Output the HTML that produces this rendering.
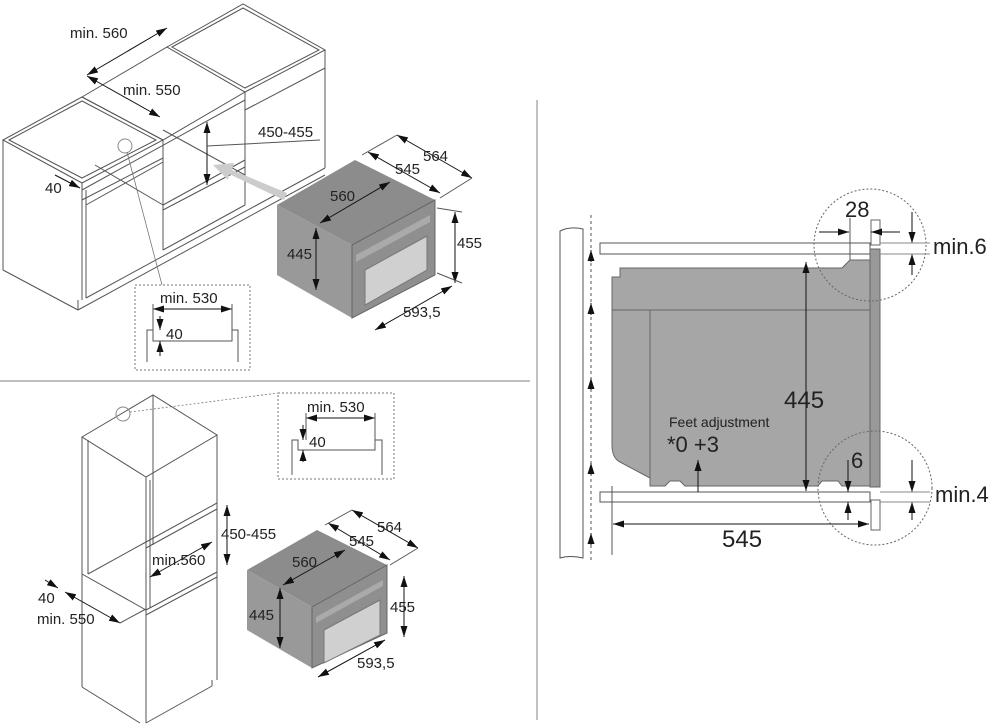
<!DOCTYPE html>
<html><head><meta charset="utf-8"><style>
html,body{margin:0;padding:0;background:#fff}
svg{display:block}
text{font-family:"Liberation Sans",sans-serif;fill:#222}
</style></head><body>
<svg width="1000" height="725" viewBox="0 0 1000 725" xmlns="http://www.w3.org/2000/svg">
<defs>
<marker id="a" markerWidth="11" markerHeight="7" refX="11" refY="3.5" orient="auto" markerUnits="userSpaceOnUse"><path d="M0,0L11,3.5L0,7z" fill="#111"/></marker>
<marker id="s" markerWidth="11" markerHeight="7" refX="0" refY="3.5" orient="auto" markerUnits="userSpaceOnUse"><path d="M11,0L0,3.5L11,7z" fill="#111"/></marker>
</defs>
<g stroke="#999" stroke-width="1.2">
<line x1="0" y1="381" x2="530" y2="381"/>
<line x1="537" y1="100" x2="537" y2="720"/>
</g>

<!-- TOP CABINET -->
<g fill="none" stroke="#555" stroke-width="1">
<polygon points="3,140 82,97 163,140 82,183" fill="#fff"/>
<polygon points="9,140 82,101 156,140 82,178"/>
<polygon points="82,97 167,47 245,92 163,140"/>
<polygon points="167,47 243,4 325,50 245,92" fill="#fff"/>
<polygon points="172,47 243,8 319,50 245,88"/>
<line x1="3" y1="140" x2="3" y2="270"/>
<line x1="3" y1="270" x2="78" y2="310"/>
<line x1="82" y1="183" x2="82" y2="300"/>
<line x1="78" y1="300" x2="78" y2="310"/>
<line x1="86" y1="190" x2="86" y2="298"/>
<line x1="78" y1="310" x2="325" y2="175"/>
<line x1="86" y1="298" x2="325" y2="168"/>
<line x1="325" y1="50" x2="325" y2="168"/>
<line x1="245" y1="92" x2="245" y2="205"/>
<line x1="163" y1="140" x2="163" y2="250"/>
<line x1="82" y1="190" x2="245" y2="100"/>
<line x1="82" y1="200" x2="163" y2="158"/>
<line x1="86" y1="205" x2="163" y2="162"/>
<line x1="163" y1="205" x2="245" y2="160"/>
<line x1="163" y1="210" x2="245" y2="167"/>
<line x1="245" y1="110" x2="325" y2="68"/>
<line x1="163" y1="130" x2="245" y2="175"/>
<line x1="95" y1="165" x2="163" y2="205"/>
<line x1="163" y1="250" x2="245" y2="205"/>
<circle cx="125" cy="146" r="7" stroke="#888"/>
<line x1="127" y1="152" x2="162" y2="285" stroke="#777" stroke-width="0.8"/>
</g>
<polygon points="287,193 232,170 234,163 213,165 228,180 229,174 284,200" fill="#ccc"/>
<g stroke="#111" stroke-width="1" fill="none">
<line x1="87" y1="75" x2="167" y2="28" marker-start="url(#s)" marker-end="url(#a)"/>
<line x1="87" y1="76" x2="160" y2="117" marker-start="url(#s)" marker-end="url(#a)"/>
<line x1="207" y1="122" x2="207" y2="185" marker-start="url(#s)" marker-end="url(#a)"/>
<line x1="207" y1="146" x2="320" y2="140" stroke="#555"/>
<line x1="55" y1="175" x2="80" y2="188" marker-end="url(#a)"/>
</g>
<g font-size="15">
<text x="70" y="38">min. 560</text>
<text x="123" y="95">min. 550</text>
<text x="258" y="137">450-455</text>
<text x="45" y="193">40</text>
</g>
<rect x="135" y="285" width="115" height="85" fill="#fff" stroke="#777" stroke-dasharray="2,2"/>
<g stroke="#111" fill="none" stroke-width="1">
<line x1="153" y1="309" x2="232" y2="309" marker-start="url(#s)" marker-end="url(#a)"/>
<line x1="153" y1="304" x2="153" y2="330" stroke="#555"/>
<line x1="232" y1="304" x2="232" y2="330" stroke="#555"/>
<polyline points="147,362 147,330 153,330 153,341 232,341 232,330 238,330 238,362" stroke="#555"/>
<line x1="160" y1="316" x2="160" y2="330" marker-end="url(#a)"/>
<line x1="160" y1="356" x2="160" y2="341" marker-end="url(#a)"/>
</g>
<text x="160" y="303" font-size="15">min. 530</text>
<text x="166" y="339" font-size="15">40</text>

<!-- top oven -->
<polygon points="277,205 355,160 435,200 352,245" fill="#8c8c8c"/>
<polygon points="277,205 352,245 352,318 277,275" fill="#999"/>
<polygon points="352,245 435,200 435,275 352,318" fill="#8f8f8f" stroke="#666"/>
<polygon points="356,255 430,215 430,222 356,262" fill="#aaa"/>
<polygon points="365,270 427,236 427,270 365,305" fill="#d0d0d0" stroke="#777"/>
<g stroke="#111" stroke-width="1" fill="none">
<line x1="397" y1="135" x2="472" y2="178" marker-start="url(#s)" marker-end="url(#a)"/>
<line x1="368" y1="152" x2="440" y2="193" marker-start="url(#s)" marker-end="url(#a)"/>
<line x1="320" y1="223" x2="390" y2="182" marker-start="url(#s)" marker-end="url(#a)"/>
<line x1="316" y1="228" x2="316" y2="290" marker-start="url(#s)" marker-end="url(#a)"/>
<line x1="455" y1="212" x2="455" y2="283" marker-start="url(#s)" marker-end="url(#a)"/>
<line x1="375" y1="330" x2="452" y2="286" marker-start="url(#s)" marker-end="url(#a)"/>
<line x1="397" y1="135" x2="362" y2="155" stroke="#555"/>
<line x1="472" y1="178" x2="440" y2="198" stroke="#555"/>
<line x1="437" y1="208" x2="462" y2="212" stroke="#555"/>
<line x1="437" y1="273" x2="462" y2="283" stroke="#555"/>
</g>
<g font-size="15">
<text x="423" y="161">564</text>
<text x="395" y="174">545</text>
<text x="330" y="201">560</text>
<text x="287" y="259">445</text>
<text x="457" y="248">455</text>
<text x="403" y="317">593,5</text>
</g>

<!-- BOTTOM CABINET -->
<g fill="none" stroke="#555" stroke-width="1">
<polygon points="82,437 153,395 217,435 146,477" fill="#fff"/>
<line x1="82" y1="437" x2="82" y2="687"/>
<line x1="88" y1="440" x2="88" y2="574"/>
<line x1="146" y1="477" x2="146" y2="723"/>
<line x1="217" y1="435" x2="217" y2="680"/>
<line x1="153" y1="395" x2="153" y2="545"/>
<line x1="82" y1="687" x2="140" y2="723"/>
<line x1="146" y1="723" x2="212" y2="686"/>
<line x1="212" y1="680" x2="212" y2="686"/>
<line x1="146" y1="542" x2="217" y2="503"/>
<line x1="146" y1="548" x2="217" y2="509"/>
<line x1="146" y1="610" x2="217" y2="572"/>
<line x1="146" y1="615" x2="217" y2="577"/>
<line x1="82" y1="574" x2="146" y2="610"/>
<line x1="88" y1="574" x2="146" y2="542"/>
<line x1="150" y1="480" x2="150" y2="608"/>
<circle cx="123" cy="414" r="7" stroke="#888"/>
<line x1="130" y1="412" x2="278" y2="393" stroke="#777" stroke-dasharray="2,2" stroke-width="0.8"/>
</g>
<g stroke="#111" stroke-width="1" fill="none">
<line x1="227" y1="505" x2="227" y2="565" marker-start="url(#s)" marker-end="url(#a)"/>
<line x1="150" y1="577" x2="212" y2="542" marker-start="url(#s)" marker-end="url(#a)"/>
<line x1="45" y1="580" x2="58" y2="588" marker-end="url(#a)"/>
<line x1="65" y1="592" x2="120" y2="623" marker-start="url(#s)" marker-end="url(#a)"/>
<line x1="120" y1="623" x2="146" y2="609" stroke="#555"/>
</g>
<g font-size="15">
<text x="221" y="539">450-455</text>
<text x="152" y="565">min.560</text>
<text x="38" y="603">40</text>
<text x="37" y="624">min. 550</text>
</g>
<rect x="278" y="393" width="116" height="86" fill="#fff" stroke="#777" stroke-dasharray="2,2"/>
<g stroke="#111" fill="none" stroke-width="1">
<line x1="306" y1="418" x2="375" y2="418" marker-start="url(#s)" marker-end="url(#a)"/>
<line x1="306" y1="413" x2="306" y2="440" stroke="#555"/>
<line x1="375" y1="413" x2="375" y2="440" stroke="#555"/>
<polyline points="292,475 292,440 298,440 298,450 375,450 375,440 382,440 382,475" stroke="#555"/>
<line x1="303" y1="425" x2="303" y2="440" marker-end="url(#a)"/>
<line x1="303" y1="462" x2="303" y2="450" marker-end="url(#a)"/>
</g>
<text x="307" y="412" font-size="15">min. 530</text>
<text x="309" y="447" font-size="15">40</text>

<!-- bottom oven -->
<polygon points="247,570 317,530 387,565 312,607" fill="#8c8c8c"/>
<polygon points="247,570 312,607 312,668 247,630" fill="#999"/>
<polygon points="312,607 387,565 387,633 312,668" fill="#8f8f8f" stroke="#666"/>
<polygon points="316,617 383,580 383,586 316,623" fill="#aaa"/>
<polygon points="324,630 380,600 380,635 324,663" fill="#d0d0d0" stroke="#777"/>
<g stroke="#111" stroke-width="1" fill="none">
<line x1="352" y1="510" x2="418" y2="548" marker-start="url(#s)" marker-end="url(#a)"/>
<line x1="328" y1="523" x2="390" y2="560" marker-start="url(#s)" marker-end="url(#a)"/>
<line x1="283" y1="585" x2="345" y2="550" marker-start="url(#s)" marker-end="url(#a)"/>
<line x1="280" y1="588" x2="280" y2="648" marker-start="url(#s)" marker-end="url(#a)"/>
<line x1="404" y1="576" x2="404" y2="637" marker-start="url(#s)" marker-end="url(#a)"/>
<line x1="318" y1="677" x2="385" y2="640" marker-start="url(#s)" marker-end="url(#a)"/>
<line x1="352" y1="510" x2="325" y2="525" stroke="#555"/>
<line x1="418" y1="548" x2="390" y2="565" stroke="#555"/>
</g>
<g font-size="15">
<text x="377" y="532">564</text>
<text x="349" y="546">545</text>
<text x="292" y="567">560</text>
<text x="249" y="620">445</text>
<text x="390" y="612">455</text>
<text x="357" y="668">593,5</text>
</g>

<!-- RIGHT PANEL -->
<path d="M560,231 Q570,226 583,229 L583,558 Q570,555 560,558 Z" fill="#fff" stroke="#555"/>
<line x1="591" y1="215" x2="591" y2="560" stroke="#555" stroke-dasharray="3,3"/>
<g stroke="#111" fill="none">
<line x1="591" y1="262" x2="591" y2="250" marker-end="url(#a)"/>
<line x1="591" y1="315" x2="591" y2="303" marker-end="url(#a)"/>
<line x1="591" y1="390" x2="591" y2="378" marker-end="url(#a)"/>
<line x1="591" y1="475" x2="591" y2="463" marker-end="url(#a)"/>
<line x1="591" y1="545" x2="591" y2="533" marker-end="url(#a)"/>
</g>
<rect x="600" y="243" width="270" height="11" fill="#fff" stroke="#555"/>
<rect x="600" y="492" width="270" height="10" fill="#fff" stroke="#555"/>
<path d="M620,268 L842,268 L850,260 L870,260 L870,486 L842,486 L838,481 L822,481 L818,486 L685,486 L680,481 L670,481 L665,486 L650,486 L650,478 L620,462 Q612,458 612,445 L612,277 L620,277 Z" fill="#a6a6a6" stroke="#666"/>
<line x1="612" y1="310" x2="870" y2="310" stroke="#666"/>
<line x1="650" y1="310" x2="650" y2="486" stroke="#666"/>
<rect x="870" y="249" width="10" height="238" fill="#999" stroke="#666"/>
<rect x="871" y="220" width="9" height="25" fill="#fff" stroke="#666"/>
<rect x="871" y="500" width="9" height="30" fill="#fff" stroke="#666"/>
<circle cx="870" cy="245" r="56" fill="none" stroke="#666" stroke-dasharray="2,2"/>
<circle cx="875" cy="488" r="57" fill="none" stroke="#666" stroke-dasharray="2,2"/>
<g stroke="#111" fill="none" stroke-width="1">
<line x1="806" y1="262" x2="806" y2="491" marker-start="url(#s)" marker-end="url(#a)"/>
<line x1="698" y1="492" x2="698" y2="460" marker-end="url(#a)"/>
<line x1="612" y1="486" x2="612" y2="555" stroke="#555"/>
<line x1="613" y1="524" x2="869" y2="524" marker-start="url(#s)" marker-end="url(#a)"/>
<line x1="819" y1="232" x2="849" y2="232" marker-end="url(#a)"/>
<line x1="900" y1="232" x2="871" y2="232" marker-end="url(#a)"/>
<line x1="850" y1="218" x2="850" y2="260" stroke="#555"/>
<line x1="912" y1="212" x2="912" y2="243" marker-end="url(#a)"/>
<line x1="912" y1="275" x2="912" y2="254" marker-end="url(#a)"/>
<line x1="880" y1="243" x2="930" y2="243" stroke="#888"/>
<line x1="880" y1="254" x2="930" y2="254" stroke="#888"/>
<line x1="848" y1="460" x2="848" y2="492" marker-end="url(#a)"/>
<line x1="848" y1="520" x2="848" y2="502" marker-end="url(#a)"/>
<line x1="912" y1="460" x2="912" y2="492" marker-end="url(#a)"/>
<line x1="912" y1="520" x2="912" y2="502" marker-end="url(#a)"/>
<line x1="880" y1="492" x2="930" y2="492" stroke="#888"/>
<line x1="880" y1="502" x2="930" y2="502" stroke="#888"/>
</g>
<text x="784" y="408" font-size="24">445</text>
<text x="669" y="427" font-size="14">Feet adjustment</text>
<text x="667" y="452" font-size="22">*0 +3</text>
<text x="722" y="547" font-size="24">545</text>
<text x="845" y="217" font-size="22">28</text>
<text x="933" y="254" font-size="22">min.6</text>
<text x="851" y="468" font-size="22">6</text>
<text x="935" y="502" font-size="22">min.4</text>
</svg>
</body></html>
